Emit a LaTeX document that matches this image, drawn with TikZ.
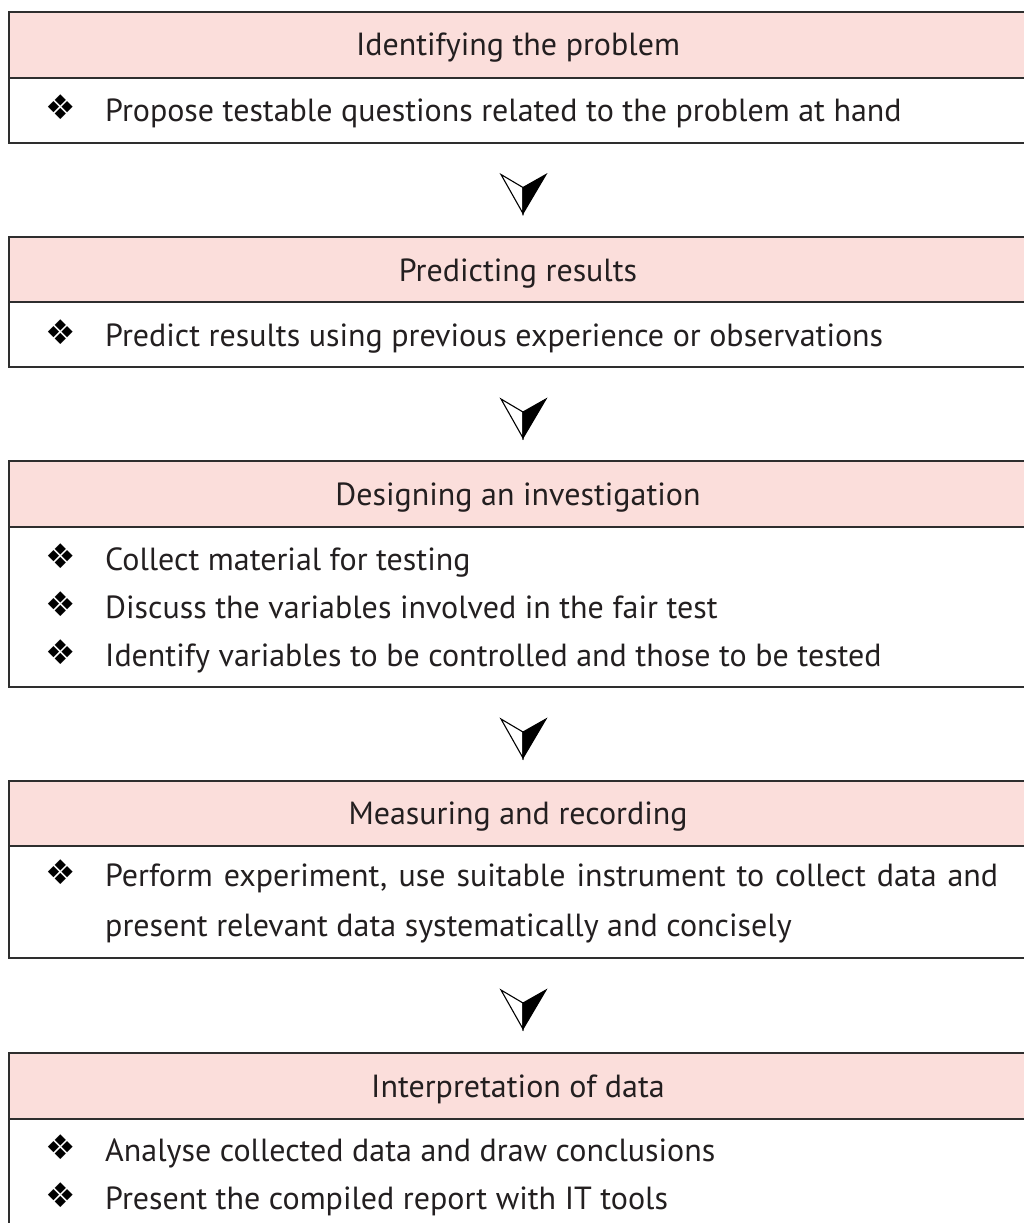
\documentclass[tikz,border=0pt]{standalone}
\usepackage{fontspec}
\setmainfont{PT Sans}
\newfontfamily\symfont{DejaVu Sans}
\usetikzlibrary{calc}
\definecolor{pinkfill}{HTML}{FBDEDB}
\definecolor{edge}{HTML}{2E2E2E}
\definecolor{ink}{HTML}{231F20}
\tikzset{
  boxhead/.style={draw=edge, line width=2pt, fill=pinkfill, rectangle, inner sep=0pt, outer sep=0pt, minimum width=1018pt, anchor=north west},
  boxbody/.style={draw=edge, line width=2pt, fill=white, rectangle, inner sep=0pt, outer sep=0pt, minimum width=1018pt, anchor=north west},
  headtxt/.style={anchor=base, inner sep=0pt, text=ink, font=\fontsize{32}{38}\selectfont},
  itemtxt/.style={anchor=base west, inner sep=0pt, text=ink, font=\fontsize{32}{38}\selectfont},
  bul/.style={anchor=base, inner sep=0pt, text=black, font=\symfont\fontsize{34}{38}\selectfont},
  downmark/.pic={
    \filldraw[fill=white, draw=black, line width=1.1pt, line join=miter] (-22,0) -- (0,13) -- (0,39) -- cycle;
    \filldraw[fill=black, draw=black, line width=1.1pt, line join=miter] (23,0) -- (0,13) -- (0,39) -- cycle;
  }
}
\begin{document}
\begin{tikzpicture}[x=1pt,y=-1pt]
\useasboundingbox (0,0) rectangle (1024,1223);
\clip (0,0) rectangle (1024,1223);
\fill[white] (0,0) rectangle (1024,1223);

% Box 1
\node[boxhead, minimum height=65pt] (h1) at (9,12.5) {};
\node[boxbody, minimum height=65pt] (b1) at (9,77.5) {};
\node[headtxt] (t1) at (518,56) {Identifying the problem};
\node[bul] (u11) at (61,119) {❖};
\node[itemtxt] (i11) at (105,121) {Propose testable questions related to the problem at hand};

% Box 2
\node[boxhead, minimum height=65pt] (h2) at (9,237) {};
\node[boxbody, minimum height=65pt] (b2) at (9,302) {};
\node[headtxt] (t2) at (518,281) {Predicting results};
\node[bul] (u21) at (61,344) {❖};
\node[itemtxt] (i21) at (105,346) {Predict results using previous experience or observations};

% Box 3
\node[boxhead, minimum height=66pt] (h3) at (9,461) {};
\node[boxbody, minimum height=160pt] (b3) at (9,527) {};
\node[headtxt] (t3) at (518,505) {Designing an investigation};
\node[bul] (u31) at (61,568) {❖};
\node[itemtxt] (i31) at (105,570) {Collect material for testing};
\node[bul] (u32) at (61,616) {❖};
\node[itemtxt] (i32) at (105,618) {Discuss the variables involved in the fair test};
\node[bul] (u33) at (61,664) {❖};
\node[itemtxt] (i33) at (105,666) {Identify variables to be controlled and those to be tested};

% Box 4
\node[boxhead, minimum height=65pt] (h4) at (9,781) {};
\node[boxbody, minimum height=112pt] (b4) at (9,846) {};
\node[headtxt] (t4) at (518,824) {Measuring and recording};
\node[bul] (u41) at (61,884) {❖};
\node[itemtxt] (i41) at (105,886) {\makebox[893pt][s]{Perform experiment, use suitable instrument to collect data and}};
\node[itemtxt] (i42) at (105,936) {present relevant data systematically and concisely};

% Box 5
\node[boxhead, minimum height=66pt] (h5) at (9,1053) {};
\node[boxbody, minimum height=140pt] (b5) at (9,1119) {};
\node[headtxt] (t5) at (518,1097) {Interpretation of data};
\node[bul] (u51) at (61,1159) {❖};
\node[itemtxt] (i51) at (105,1161) {Analyse collected data and draw conclusions};
\node[bul] (u52) at (61,1207) {❖};
\node[itemtxt] (i52) at (105,1209) {Present the compiled report with IT tools};

% Arrow marks between boxes
\pic at ($(b1.south)+(5,32)$) {downmark};
\pic at ($(b2.south)+(5,32)$) {downmark};
\pic at ($(b3.south)+(5,32)$) {downmark};
\pic at ($(b4.south)+(5,32)$) {downmark};
\end{tikzpicture}
\end{document}
